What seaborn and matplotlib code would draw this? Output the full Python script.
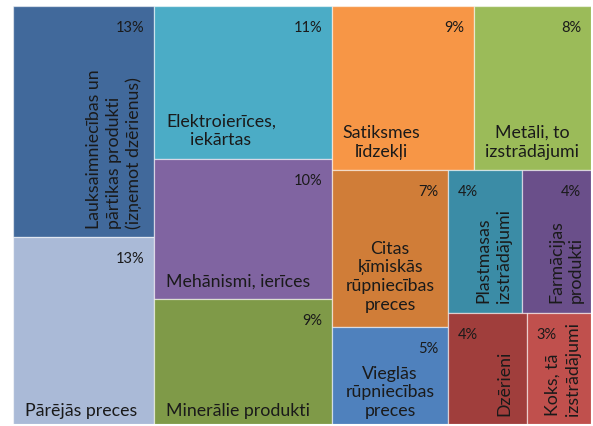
import matplotlib
matplotlib.use("Agg")
import matplotlib.pyplot as plt
from matplotlib.patches import Rectangle
import seaborn as sns

# ---- data ----
categories = [
    "Lauksaimniecības un\npārtikas produkti\n(izņemot dzērienus)",
    "Pārējās preces",
    "Elektroierīces,\niekārtas",
    "Mehānismi, ierīces",
    "Minerālie produkti",
    "Satiksmes\nlīdzekļi",
    "Metāli, to\nizstrādājumi",
    "Citas\nķīmiskās\nrūpniecības\npreces",
    "Vieglās\nrūpniecības\npreces",
    "Plastmasas\nizstrādājumi",
    "Farmācijas\nprodukti",
    "Dzērieni",
    "Koks, tā\nizstrādājumi",
]
# area sizes (estimated shares of tile areas)
sizes = [13.5, 10.9, 11.3, 10.35, 9.2, 9.57, 7.93, 7.5, 4.65, 4.38, 4.1, 3.63, 2.95]
# displayed percentages
pct_labels = ["13%", "13%", "11%", "10%", "9%", "9%", "8%", "7%", "5%", "4%", "4%", "4%", "3%"]

# ---- styles ----
colors = ["#41699b", "#aabad7", "#4bacc6", "#8064a1", "#7f9a48", "#f79646", "#9bbb59",
          "#d07d38", "#4f81bd", "#3b8ca6", "#6a4f8a", "#a03e3c", "#c0504d"]

# layout tree: 'h' splits side by side, 'v' stacks top to bottom
tree = ("h", [("v", [0, 1]),
              ("v", [2, 3, 4]),
              ("v", [("h", [5, 6]),
                     ("h", [("v", [7, 8]),
                            ("v", [("h", [9, 10]), ("h", [11, 12])])])])])

def total(node):
    if isinstance(node, int):
        return sizes[node]
    return sum(total(c) for c in node[1])

rects = {}
def layout(node, x, y, w, h):
    if isinstance(node, int):
        rects[node] = (x, y, w, h)
        return
    d, children = node
    t = total(node)
    pos = 0.0
    for c in children:
        f = total(c) / t
        if d == "h":
            layout(c, x + pos * w, y, w * f, h)
        else:
            layout(c, x, y + pos * h, w, h * f)
        pos += f

layout(tree, 0.0, 0.0, 100.0, 100.0)

# label placements: (anchor corner, ha, va, dx, dy, rotation)
cat_style = {
    0: ("br", "right", "bottom", -12, 8, 90),
    1: ("bl", "left", "bottom", 12, 5, 0),
    2: ("bl", "left", "bottom", 12, 11, 0),
    3: ("bl", "left", "bottom", 12, 10, 0),
    4: ("bl", "left", "bottom", 12, 5, 0),
    5: ("bl", "left", "bottom", 10, 10, 0),
    6: ("bc", "center", "bottom", 0, 10, 0),
    7: ("bc", "center", "bottom", 0, 14, 0),
    8: ("bc", "center", "bottom", 0, 5, 0),
    9: ("br", "right", "bottom", -10, 10, 90),
    10: ("br", "right", "bottom", -7, 10, 90),
    11: ("br", "right", "bottom", -14, 8, 90),
    12: ("br", "right", "bottom", -10, 8, 90),
}
pct_side = {9: "l", 11: "l", 12: "l"}

sns.set_theme(style="white")
plt.rcParams["font.family"] = ["Lato", "DejaVu Sans"]

fig = plt.figure(figsize=(5.93, 4.26), dpi=100)
ax = fig.add_axes([13 / 593, 2 / 426, 578 / 593, 418 / 426])
ax.set_xlim(0, 100)
ax.set_ylim(100, 0)
ax.axis("off")

fs_pct = 10.5
fs_cat = 12.8
pitch = 20  # pixels between rotated lines
txtc = "#1a1a1a"
for i in range(len(categories)):
    x, y, w, h = rects[i]
    ax.add_patch(Rectangle((x, y), w, h, facecolor=colors[i],
                           edgecolor=(1, 1, 1, 0.55), linewidth=0.9))
    # percent label
    if pct_side.get(i) == "l":
        ax.annotate(pct_labels[i], xy=(x, y), xytext=(10, -15), textcoords="offset pixels",
                    ha="left", va="top", fontsize=fs_pct, color=txtc)
    else:
        ax.annotate(pct_labels[i], xy=(x + w, y), xytext=(-10, -15), textcoords="offset pixels",
                    ha="right", va="top", fontsize=fs_pct, color=txtc)
    corner, ha, va, dx, dy, rot = cat_style[i]
    if corner == "br":
        xy = (x + w, y + h)
    elif corner == "bl":
        xy = (x, y + h)
    else:
        xy = (x + w / 2, y + h)
    if rot:
        lines = categories[i].split("\n")
        n = len(lines)
        for k, line in enumerate(lines):
            ax.annotate(line, xy=xy, xytext=(dx - (n - 1 - k) * pitch, dy),
                        textcoords="offset pixels", ha="right", va="bottom",
                        rotation=90, fontsize=fs_cat, color=txtc)
    else:
        ax.annotate(categories[i], xy=xy, xytext=(dx, dy), textcoords="offset pixels",
                    ha=ha, va=va, multialignment="center",
                    fontsize=fs_cat, color=txtc, linespacing=1.2)

fig.savefig("out.png", dpi=100)
